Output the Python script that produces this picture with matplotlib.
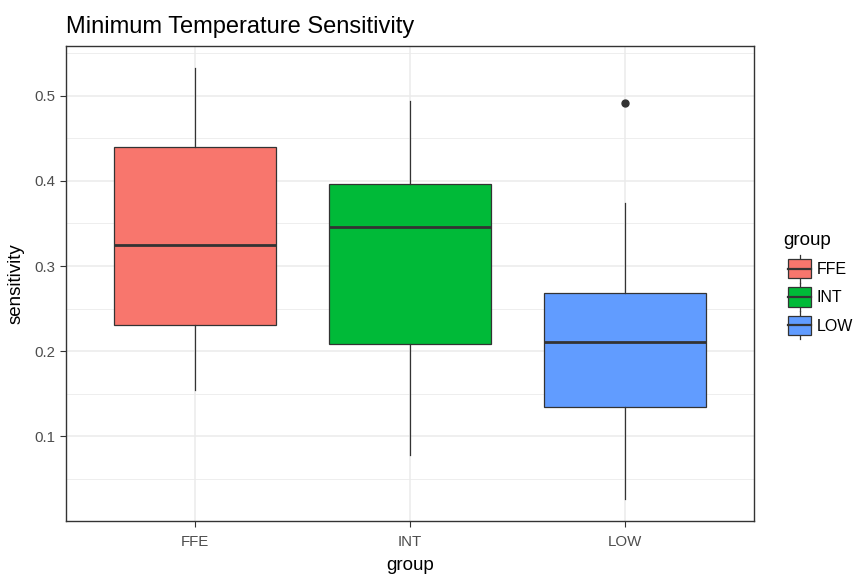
import matplotlib
matplotlib.use("Agg")
import matplotlib.pyplot as plt
from matplotlib.patches import Rectangle
from matplotlib.lines import Line2D
from matplotlib.legend_handler import HandlerBase

plt.rcParams['font.family'] = ['Liberation Sans', 'DejaVu Sans']

groups = ["FFE", "INT", "LOW"]
colors = ["#F8766D", "#00BA38", "#619CFF"]
whislo = [0.155, 0.078, 0.026]
q1 = [0.231, 0.209, 0.135]
med = [0.325, 0.346, 0.211]
q3 = [0.440, 0.396, 0.268]
whishi = [0.533, 0.494, 0.374]
outliers = [[], [], [0.492]]

stats = []
for i, g in enumerate(groups):
    stats.append(dict(label=g, whislo=whislo[i], q1=q1[i], med=med[i],
                      q3=q3[i], whishi=whishi[i], fliers=outliers[i]))

fig = plt.figure(figsize=(8.55, 5.76), dpi=100)
ax = fig.add_axes([66/855, 1-521/576, 688/855, 475/576])

edge = "#333333"
bp = ax.bxp(stats, positions=[1, 2, 3], widths=0.75, patch_artist=True,
            showcaps=False,
            boxprops=dict(edgecolor=edge, linewidth=0.9),
            medianprops=dict(color=edge, linewidth=2.0),
            whiskerprops=dict(color=edge, linewidth=0.9),
            flierprops=dict(marker='o', markerfacecolor=edge, markeredgecolor=edge,
                            markersize=5, linestyle='none'),
            zorder=3)
for p, c in zip(bp['boxes'], colors):
    p.set_facecolor(c)

ax.set_xlim(0.4, 3.6)
ax.set_ylim(0.0006, 0.5584)
ax.set_yticks([0.1, 0.2, 0.3, 0.4, 0.5])
ax.set_yticks([0.05, 0.15, 0.25, 0.35, 0.45, 0.55], minor=True)
ax.set_xticks([1, 2, 3])
ax.set_xticklabels(groups)
ax.grid(True, which='major', color='#EBEBEB', linewidth=1.1, zorder=0)
ax.grid(True, which='minor', axis='y', color='#EBEBEB', linewidth=0.6, zorder=0)
ax.set_axisbelow(True)
ax.tick_params(which='minor', length=0)
ax.tick_params(which='major', length=4, color='#333333', labelsize=10.8,
               labelcolor='#4D4D4D', width=0.8, pad=4)
ax.tick_params(axis='x', pad=6)
for s in ax.spines.values():
    s.set_color('#333333')
    s.set_linewidth(1.0)

ax.set_xlabel("group", fontsize=13.5, color='black', labelpad=6)
ax.set_ylabel("sensitivity", fontsize=13.5, color='black', labelpad=7)
ax.set_title("Minimum Temperature Sensitivity", fontsize=17, loc='left',
             x=0.0, pad=9, color='black')


class BoxHandler(HandlerBase):
    def __init__(self, color):
        super().__init__()
        self.color = color

    def create_artists(self, legend, orig_handle, xdescent, ydescent, width,
                       height, fontsize, trans):
        x0 = -xdescent
        y0 = -ydescent
        bw = width
        bx = x0
        bh = height * 1.0
        by = y0 + (height - bh) / 2
        cx = x0 + width / 2
        ext = height * 0.22
        arts = [
            Line2D([cx, cx], [by - ext, by], color=edge, lw=0.9, transform=trans),
            Line2D([cx, cx], [by + bh, by + bh + ext], color=edge, lw=0.9, transform=trans),
            Rectangle((bx, by), bw, bh, facecolor=self.color, edgecolor=edge, lw=0.9,
                      transform=trans),
            Line2D([bx, bx + bw], [y0 + height / 2] * 2, color=edge, lw=1.6, transform=trans),
        ]
        return arts


handles = [Rectangle((0, 0), 1, 1) for _ in groups]
hmap = {h: BoxHandler(c) for h, c in zip(handles, colors)}
leg = fig.legend(handles, groups, handler_map=hmap, loc='center left',
                 bbox_to_anchor=(788/855, 1-297/576), frameon=False,
                 fontsize=11.5,
                 handlelength=1.45, handleheight=1.5, labelspacing=0.55,
                 handletextpad=0.35, borderaxespad=0, borderpad=0)
fig.text(783/855, 1-240/576, "group", fontsize=13.5, ha='left', va='center',
         color='black')

fig.savefig("out.png", dpi=100)
